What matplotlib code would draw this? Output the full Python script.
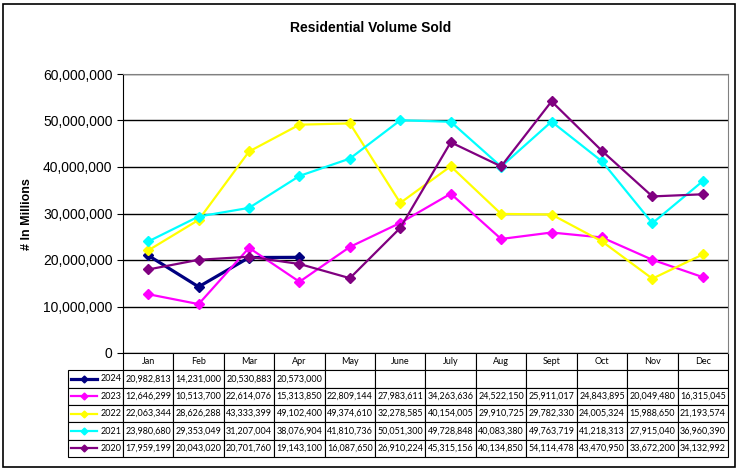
import numpy as np
import matplotlib.pyplot as plt
from matplotlib.lines import Line2D
from matplotlib.patches import Rectangle

plt.rcParams['font.family'] = ['Liberation Sans', 'DejaVu Sans']

months = ['Jan', 'Feb', 'Mar', 'Apr', 'May', 'June', 'July', 'Aug', 'Sept', 'Oct', 'Nov', 'Dec']
years = ['2024', '2023', '2022', '2021', '2020']
colors = ['#000080', '#FF00FF', '#FFFF00', '#00FFFF', '#800080']

v2024 = [20982813, 14231000, 20530883, 20573000]
v2023 = [12646299, 10513700, 22614076, 15313850, 22809144, 27983611, 34263636, 24522150, 25911017, 24843895, 20049480, 16315045]
v2022 = [22063344, 28626288, 43333399, 49102400, 49374610, 32278585, 40154005, 29910725, 29782330, 24005324, 15988650, 21193574]
v2021 = [23980680, 29353049, 31207004, 38076904, 41810736, 50051300, 49728848, 40083380, 49763719, 41218313, 27915040, 36960390]
v2020 = [17959199, 20043020, 20701760, 19143100, 16087650, 26910224, 45315156, 40134850, 54114478, 43470950, 33672200, 34132992]
series = [v2024, v2023, v2022, v2021, v2020]

fig = plt.figure(figsize=(7.41, 4.71), dpi=100)
fig.patches.append(Rectangle((3 / 741, 4 / 471), 732 / 741, 463 / 471, transform=fig.transFigure,
                             fill=False, edgecolor='black', linewidth=1.2))

ax = fig.add_axes([123 / 741, 1 - 353 / 471, 605 / 741, 279 / 471])
x = np.arange(12) + 0.5
for yr, vals, c in zip(years, series, colors):
    lw = 2.3 if yr == '2024' else 1.6
    ax.plot(x[:len(vals)], vals, color=c, linewidth=lw, marker='D', markersize=5.5)

ax.set_xlim(0, 12)
ax.set_ylim(0, 60000000)
ax.set_yticks(range(0, 60000001, 10000000))
ax.yaxis.set_major_formatter(plt.FuncFormatter(lambda v, p: f'{int(v):,}'))
ax.tick_params(axis='y', labelsize=10, length=4, direction='out')
ax.set_xticks([])
ax.grid(axis='y', color='black', linewidth=1)
ax.set_axisbelow(True)
ax.spines['top'].set_color('#808080')
ax.spines['right'].set_color('#808080')
ax.spines['bottom'].set_visible(False)
ax.spines['left'].set_color('black')

fig.text(0.5, 1 - 28 / 471, 'Residential Volume Sold', ha='center', va='center',
         fontsize=10, fontweight='bold')
fig.text(27 / 741, 1 - 214 / 471, '# In Millions', ha='center', va='center',
         rotation=90, fontsize=9, fontweight='bold')

# data table under the plot
cell_text = [[''] + months]
for yr, vals in zip(years, series):
    row = [yr] + [f'{v:,}' for v in vals] + [''] * (12 - len(vals))
    cell_text.append(row)

lab_w = 55 / 605
tbl = ax.table(cellText=cell_text, bbox=[-lab_w, -104 / 279, 1 + lab_w, 104 / 279],
               cellLoc='center')
tbl.auto_set_font_size(False)
tbl.set_fontsize(6.5)
for (r, c), cell in tbl.get_celld().items():
    cell.set_linewidth(0.8)
    cell.get_text().set_family(['Lato', 'DejaVu Sans'])
    if c == 0:
        cell.set_width(lab_w)
        cell.get_text().set_ha('right')
        cell._loc = 'right'
        cell.PAD = 0.03
    else:
        cell.set_width(1 / 12)
    if r == 0 and c == 0:
        cell.set_edgecolor('none')

# legend keys inside first column
row_h = 104 / 279 / 6
x0, x1 = (71 - 123) / 605, (97 - 123) / 605
for i, c in enumerate(colors):
    yc = -104 / 279 + row_h * (4 - i) + row_h / 2
    lw = 2.3 if i == 0 else 1.6
    ax.add_line(Line2D([x0, x1], [yc, yc], transform=ax.transAxes,
                       color=c, linewidth=lw, clip_on=False))
    ax.add_line(Line2D([(x0 + x1) / 2], [yc], transform=ax.transAxes, color=c,
                       marker='D', markersize=3.5, clip_on=False))

fig.savefig('out.png', dpi=100)
